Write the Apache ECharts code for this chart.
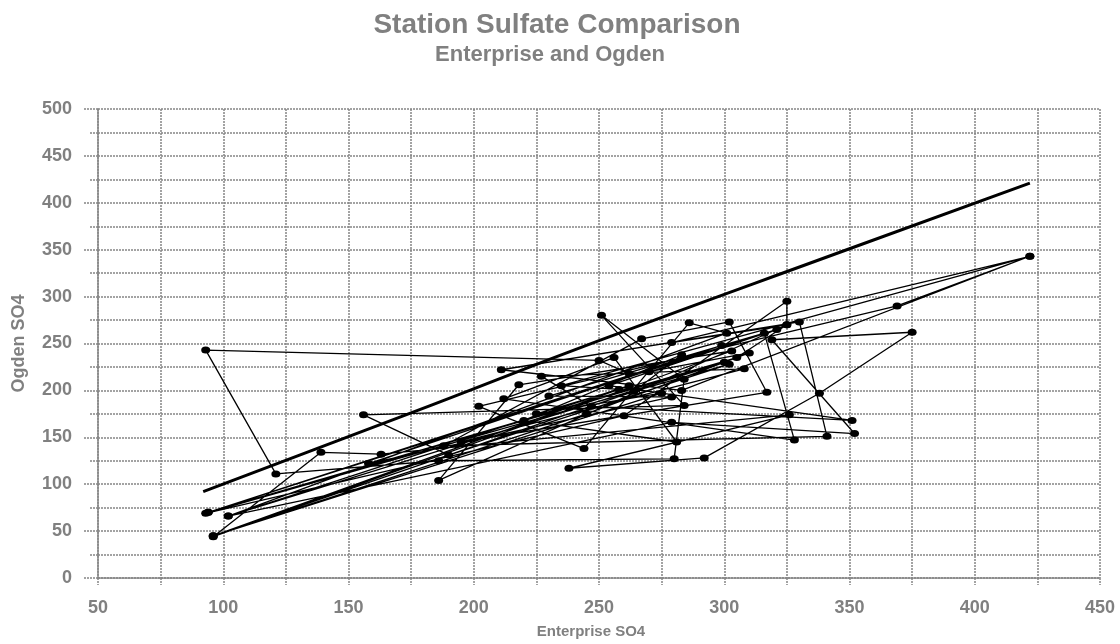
<!DOCTYPE html>
<html lang="en">
<head>
    <meta charset="UTF-8">
    <title>Station Sulfate Comparison</title>
    <script src="https://cdn.jsdelivr.net/npm/echarts@6/dist/echarts.min.js"></script>
    <style>
        html, body { margin: 0; padding: 0; background: #fff; }
        #chart { width: 1120px; height: 644px; }
    </style>
</head>
<body>
<div id="chart"></div>
<script>
    // observations, in sampling order (Enterprise SO4, Ogden SO4)
    var enterprise = [262, 250, 93, 121, 186, 280, 284, 251, 284, 156, 190, 302, 93, 260, 325, 325, 186, 218, 303,
        96, 139, 163, 326, 238, 292, 338, 375, 319, 352, 279, 102, 301, 286, 244, 202, 369, 422, 283, 211, 330,
        341, 188, 267, 302, 317, 195, 308, 227, 247, 351, 254, 321, 94, 299, 158, 279, 230, 316, 328, 212, 256,
        281, 220, 283, 264, 96, 275, 225, 258, 235, 422, 279, 325, 305, 94, 300, 102, 262, 96, 245, 310, 270];
    var ogden = [218, 232, 243, 111, 125, 127, 212, 280, 184, 174, 131, 228, 69, 173, 295, 270, 104, 206, 242,
        44, 134, 132, 174, 117, 128, 197, 262, 254, 154, 166, 66, 261, 272, 138, 183, 290, 343, 200, 222, 273,
        151, 141, 255, 273, 198, 145, 223, 215, 183, 168, 205, 265, 70, 248, 122, 193, 194, 261, 147, 191, 235,
        145, 168, 238, 199, 45, 197, 175, 201, 205, 343, 251, 270, 235, 70, 230, 66, 205, 45, 175, 240, 220];
    // one-to-one reference line
    var refX = [92, 175, 250, 350, 422];
    var refY = [92, 176, 253, 351, 421];

    var grey = '#808080';
    var font = 'Liberation Sans, Arial';
    var gridLine = { color: '#858585', width: 1.5, type: [2, 1] };

    function pairs(xs, ys) {
        var out = [];
        for (var i = 0; i < xs.length; i++) out.push([xs[i], ys[i]]);
        return out;
    }

    var chart = echarts.init(document.getElementById('chart'));
    chart.setOption({
        animation: false,
        title: [{
            text: 'Station Sulfate Comparison',
            left: 552, top: 6, textAlign: 'center',
            textStyle: { fontFamily: font, fontWeight: 'bold', fontSize: 28, color: grey }
        }, {
            text: 'Enterprise and Ogden',
            left: 545, top: 39, textAlign: 'center',
            textStyle: { fontFamily: font, fontWeight: 'bold', fontSize: 22, color: grey }
        }],
        grid: { left: 98, right: 20, top: 109, bottom: 65 },
        xAxis: {
            type: 'value', min: 50, max: 450, interval: 50,
            name: 'Enterprise SO4', nameLocation: 'middle', nameGap: 46,
            nameTextStyle: { fontFamily: font, fontWeight: 'bold', fontSize: 15, color: grey, padding: [0, 16, 0, 0] },
            axisLine: { show: true, lineStyle: gridLine },
            axisTick: { show: true, length: 7, lineStyle: gridLine },
            minorTick: { show: true, splitNumber: 2, length: 7, lineStyle: gridLine },
            axisLabel: { margin: 21, fontFamily: font, fontWeight: 'bold', fontSize: 18, color: grey },
            splitLine: { show: true, lineStyle: gridLine },
            minorSplitLine: { show: true, lineStyle: gridLine }
        },
        yAxis: {
            type: 'value', min: 0, max: 500, interval: 50,
            name: 'Ogden SO4', nameLocation: 'middle', nameGap: 70, nameRotate: 90,
            nameTextStyle: { fontFamily: font, fontWeight: 'bold', fontSize: 18, color: grey },
            axisLine: { show: true, lineStyle: gridLine },
            axisTick: { show: true, length: 15, lineStyle: gridLine },
            minorTick: { show: true, splitNumber: 2, length: 9, lineStyle: gridLine },
            axisLabel: { margin: 26, fontFamily: font, fontWeight: 'bold', fontSize: 18, color: grey },
            splitLine: { show: true, lineStyle: gridLine },
            minorSplitLine: { show: true, lineStyle: gridLine }
        },
        series: [{
            type: 'line',
            data: pairs(enterprise, ogden),
            symbol: 'circle',
            symbolSize: [9, 7],
            itemStyle: { color: '#000' },
            lineStyle: { color: '#000', width: 1.3 },
            z: 3
        }, {
            type: 'line',
            data: pairs(refX, refY),
            smooth: true,
            showSymbol: false,
            lineStyle: { color: '#000', width: 3 },
            z: 4
        }]
    });
</script>
</body>
</html>
